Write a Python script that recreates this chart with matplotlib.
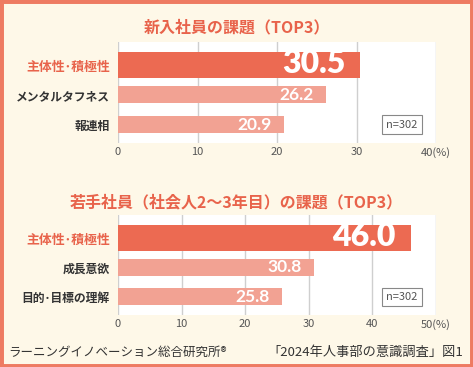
import matplotlib
matplotlib.use('Agg')
import matplotlib.pyplot as plt
from matplotlib.patches import Rectangle

plt.rcParams['font.family'] = ['Noto Sans CJK JP', 'DejaVu Sans']

# data
title1 = '新入社員の課題（TOP3）'
cats1 = ['主体性･積極性', 'メンタルタフネス', '報連相']
vals1 = [30.5, 26.2, 20.9]
ticks1 = [0, 10, 20, 30, 40]
ticklabels1 = ['0', '10', '20', '30', '40(%)']

title2 = '若手社員（社会人2〜3年目）の課題（TOP3）'
cats2 = ['主体性･積極性', '成長意欲', '目的･目標の理解']
vals2 = [46.0, 30.8, 25.8]
ticks2 = [0, 10, 20, 30, 40, 50]
ticklabels2 = ['0', '10', '20', '30', '40', '50(%)']

n_text = 'n=302'
footer_left = 'ラーニングイノベーション総合研究所®'
footer_right = '「2024年人事部の意識調査」図1'

BG = '#FEF8E8'
BORDER = '#EE7B62'
DARK = '#EC6A52'
LIGHT = '#F2A293'
ACCENT = '#E8634B'
GRAY = '#555555'

W, H = 473, 367
fig = plt.figure(figsize=(W / 100, H / 100), dpi=100)
fig.patch.set_facecolor(BG)
fig.patches.append(Rectangle((0, 0), 1, 1, transform=fig.transFigure,
                             facecolor='none', edgecolor=BORDER, linewidth=5))


def panel(rect, title, title_y, cats, vals, ticks, ticklabels, xmax):
    ax = fig.add_axes(rect)
    ax.set_facecolor('white')
    pos = range(len(cats))
    heights = [0.86] + [0.58] * (len(cats) - 1)
    colors = [DARK] + [LIGHT] * (len(cats) - 1)
    ax.barh(pos, vals, height=heights, color=colors, zorder=2)
    ax.set_xlim(0, xmax)
    ax.set_ylim(2.62, -0.78)
    ax.set_xticks(ticks)
    ax.set_xticklabels(ticklabels)
    ax.tick_params(axis='x', length=0, pad=3, labelsize=8, colors=GRAY)
    ax.set_yticks(list(pos))
    ax.set_yticklabels(cats)
    ax.tick_params(axis='y', length=0, pad=6, labelsize=8.5)
    for i, lab in enumerate(ax.get_yticklabels()):
        lab.set_fontweight('bold')
        lab.set_color(ACCENT if i == 0 else '#333333')
        if i == 0:
            lab.set_fontsize(9.3)
    for s in ax.spines.values():
        s.set_visible(False)
    ax.grid(axis='x', color='#CFCFCF', linewidth=1, zorder=0)
    ax.set_axisbelow(True)
    for i, v in enumerate(vals):
        big = i == 0
        ax.annotate(f'{v:.1f}', (v, i), xytext=(-11 if big else -9, 1 if big else 0),
                    textcoords='offset points', ha='right', va='center',
                    color='white', fontweight='heavy' if big else 'bold',
                    fontsize=23 if big else 12.5, family=['Lato', 'DejaVu Sans'], zorder=3)
    ax.text(0.893, 0.18, n_text, transform=ax.transAxes, ha='center', va='center',
            fontsize=8, color=GRAY,
            bbox=dict(boxstyle='square,pad=0.4', facecolor='white', edgecolor='#888888', lw=0.8))
    fig.text(0.5, title_y, title, ha='center', va='center', fontsize=11.5,
             fontweight='bold', color=ACCENT)
    return ax


panel([118 / W, 1 - 143 / H, 318 / W, 101 / H], title1, 1 - 27 / H,
      cats1, vals1, ticks1, ticklabels1, 40)
panel([118 / W, 1 - 315 / H, 318 / W, 100 / H], title2, 1 - 202 / H,
      cats2, vals2, ticks2, ticklabels2, 50)

fig.text(8 / W, 1 - 352 / H, footer_left, ha='left', va='center', fontsize=9, color='#333333')
fig.text(463 / W, 1 - 352 / H, footer_right, ha='right', va='center', fontsize=9.5, color='#333333')

fig.savefig('out.png', dpi=100, facecolor=BG)
